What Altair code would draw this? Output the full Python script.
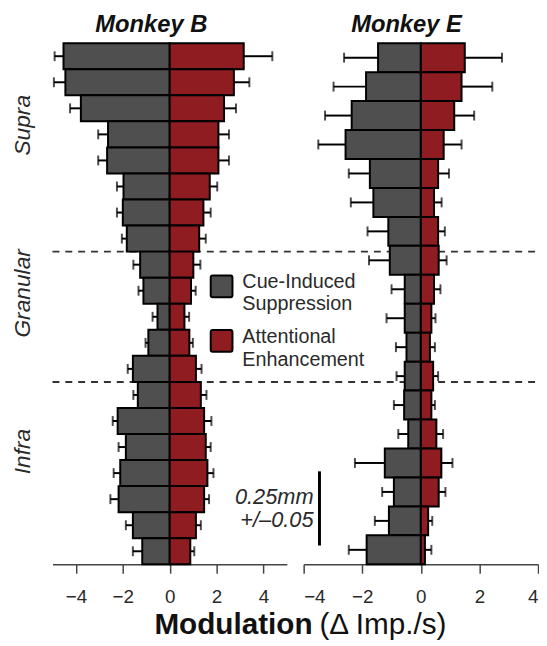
import altair as alt
import pandas as pd

# ---------------- data ----------------
series_names = ["Cue-Induced Suppression", "Attentional Enhancement"]

# Monkey B: 20 depth bins (Supra 8, Granular 5, Infra 7)
b_layers = [8, 5, 7]
b_supp = [4.53, 4.45, 3.79, 2.63, 2.67, 1.97, 2.00, 1.83, 1.26, 1.12,
          0.52, 0.91, 1.57, 1.36, 2.22, 1.87, 2.11, 2.18, 1.57, 1.17]
b_supp_err = [0.38, 0.49, 0.46, 0.42, 0.38, 0.28, 0.25, 0.21, 0.29, 0.21,
              0.21, 0.12, 0.22, 0.19, 0.21, 0.31, 0.28, 0.35, 0.30, 0.40]
b_enh = [3.16, 2.74, 2.32, 2.08, 2.08, 1.71, 1.44, 1.26, 1.01, 0.91,
         0.63, 0.84, 1.12, 1.33, 1.47, 1.54, 1.61, 1.47, 1.12, 0.88]
b_enh_err = [1.22, 0.66, 0.51, 0.45, 0.45, 0.32, 0.31, 0.28, 0.30, 0.20,
             0.20, 0.15, 0.24, 0.24, 0.31, 0.21, 0.26, 0.21, 0.21, 0.17]

# Monkey E: 18 depth bins
e_supp = [1.46, 1.87, 2.36, 2.57, 1.74, 1.62, 1.11, 1.06, 0.55, 0.55,
          0.49, 0.55, 0.57, 0.43, 1.23, 0.92, 1.09, 1.85]
e_supp_err = [1.16, 1.11, 0.91, 0.93, 0.72, 0.77, 0.71, 0.71, 0.45, 0.62,
              0.36, 0.28, 0.35, 0.34, 1.02, 0.40, 0.48, 0.61]
e_enh = [1.50, 1.39, 1.14, 0.78, 0.59, 0.45, 0.59, 0.61, 0.45, 0.36,
         0.31, 0.42, 0.36, 0.53, 0.70, 0.61, 0.25, 0.14]
e_enh_err = [1.27, 1.05, 0.68, 0.61, 0.37, 0.26, 0.23, 0.27, 0.22, 0.14,
             0.17, 0.17, 0.12, 0.23, 0.38, 0.23, 0.14, 0.22]

tick_values = [-4, -2, 0, 2, 4]
layer_names = ["Supra", "Granular", "Infra"]

# ---------------- styling ----------------
FONT = "Liberation Sans"
GRAY = "#4f4f4f"
RED = "#8e1c20"
TXT = "#2a2a2a"

color_scale = alt.Scale(domain=series_names, range=[GRAY, RED])


def build_df(supp, supp_err, enh, enh_err):
    n = len(supp)
    recs = []
    for i in range(n):
        top, bot, mid = i / n, (i + 1) / n, (i + 0.5) / n
        recs.append(dict(series=series_names[0], lo=-supp[i], hi=0.0, end=-supp[i],
                         cap=-(supp[i] + supp_err[i]), top=top, bottom=bot, mid=mid))
        recs.append(dict(series=series_names[1], lo=0.0, hi=enh[i], end=enh[i],
                         cap=enh[i] + enh_err[i], top=top, bottom=bot, mid=mid))
    return pd.DataFrame(recs)


def panel_layers(df, domain, width):
    xs = alt.Scale(domain=domain, nice=False, zero=False)
    ys = alt.Scale(domain=[0, 1], reverse=True, nice=False, zero=False)
    axis = alt.Axis(values=tick_values, title=None, grid=False, format="d",
                    domainColor="#444", domainWidth=1.5, tickColor="#444",
                    tickWidth=1.5, tickSize=9, labelFontSize=19, labelFont=FONT,
                    labelColor=TXT, labelPadding=15)
    base = alt.Chart(df)
    bars = base.mark_rect(stroke="black", strokeWidth=2).encode(
        x=alt.X("lo:Q", scale=xs, axis=axis),
        x2="hi:Q",
        y=alt.Y("top:Q", scale=ys, axis=None),
        y2="bottom:Q",
        color=alt.Color("series:N", scale=color_scale, legend=None),
    )
    err = base.mark_rule(color="black", strokeWidth=2).encode(
        x=alt.X("end:Q", scale=xs), x2="cap:Q", y=alt.Y("mid:Q", scale=ys))
    caps = base.mark_tick(orient="vertical", color="black", thickness=2, size=10).encode(
        x=alt.X("cap:Q", scale=xs), y=alt.Y("mid:Q", scale=ys))
    return [bars, err, caps]


df_b = build_df(b_supp, b_supp_err, b_enh, b_enh_err)
df_e = build_df(e_supp, e_supp_err, e_enh, e_enh_err)

WB, WE, H, GAP = 237, 237, 527, 17

# layer boundaries (dashed lines) from Monkey B's bin counts
nb = sum(b_layers)
bounds = [sum(b_layers[:k]) / nb for k in range(1, len(b_layers))]
dash_df = pd.DataFrame({"y": bounds})
dashes = alt.Chart(dash_df).mark_rule(color="#333", strokeWidth=2, strokeDash=[7, 6]).encode(
    y=alt.Y("y:Q", scale=alt.Scale(domain=[0, 1], reverse=True, nice=False, zero=False), axis=None),
    x=alt.value(0), x2=alt.value(WB + GAP + WE))

# invisible anchor to fix the plot position on the page
anchor = alt.Chart(pd.DataFrame({"a": [0]})).mark_rule(opacity=0).encode(
    x=alt.value(-45), x2=alt.value(-45), y=alt.value(-32), y2=alt.value(-31))


def txt(s, x, y, size, **kw):
    return alt.Chart(pd.DataFrame({"t": [s]})).mark_text(
        font=FONT, fontSize=size, color=kw.pop("color", TXT), **kw).encode(
        text="t:N", x=alt.value(x), y=alt.value(y))


title_style = dict(fontWeight="bold", fontStyle="italic", align="center", baseline="top", color="#111")

side = [txt(layer_names[0], -30, 83, 23, angle=270, fontStyle="italic", align="center", baseline="middle"),
        txt(layer_names[1], -30, 253, 23, angle=270, fontStyle="italic", align="center", baseline="middle"),
        txt(layer_names[2], -30, 413, 23, angle=270, fontStyle="italic", align="center", baseline="middle")]

legend_rects = [
    alt.Chart(pd.DataFrame({"s": [series_names[0]]})).mark_rect(stroke="black", strokeWidth=2, cornerRadius=2).encode(
        x=alt.value(160), x2=alt.value(182), y=alt.value(235), y2=alt.value(257),
        color=alt.Color("s:N", scale=color_scale, legend=None)),
    alt.Chart(pd.DataFrame({"s": [series_names[1]]})).mark_rect(stroke="black", strokeWidth=2, cornerRadius=2).encode(
        x=alt.value(160), x2=alt.value(182), y=alt.value(290), y2=alt.value(312),
        color=alt.Color("s:N", scale=color_scale, legend=None)),
]
leg_style = dict(align="left", baseline="alphabetic")
legend_texts = [txt("Cue-Induced", 192, 248, 20, **leg_style),
                txt("Suppression", 192, 270, 20, **leg_style),
                txt("Attentional", 192, 303, 20, **leg_style),
                txt("Enhancement", 192, 326, 20, **leg_style)]

xtitle = [txt("Modulation", 263, 597, 30, fontWeight="bold", align="right", baseline="alphabetic", color="#111"),
          txt("(Δ Imp./s)", 270, 597, 30, align="left", baseline="alphabetic", color="#111")]

panel_b = alt.layer(
    anchor, dashes, *panel_layers(df_b, [-5, 5], WB),
    txt("Monkey B", 100, -30, 24, **title_style),
    *side, *legend_rects, *legend_texts, *xtitle,
).properties(width=WB, height=H)

scalebar = alt.Chart(pd.DataFrame({"a": [0]})).mark_rule(color="black", strokeWidth=3).encode(
    x=alt.value(16), x2=alt.value(16), y=alt.value(433), y2=alt.value(508))

panel_e = alt.layer(
    *panel_layers(df_e, [-4, 4], WE),
    txt("Monkey E", 104, -30, 24, **title_style),
    scalebar,
    txt("0.25mm", 10, 466, 22, fontStyle="italic", align="right", baseline="alphabetic"),
    txt("+/–0.05", 10, 489, 22, fontStyle="italic", align="right", baseline="alphabetic"),
).properties(width=WE, height=H)

chart = alt.hconcat(panel_b, panel_e, spacing=GAP, bounds="flush").properties(
    padding={"left": 0, "top": 0, "right": 0, "bottom": 0},
    background="white",
).configure_view(stroke=None)

chart.save("out.html", embed_options={"renderer": "svg", "actions": False})
